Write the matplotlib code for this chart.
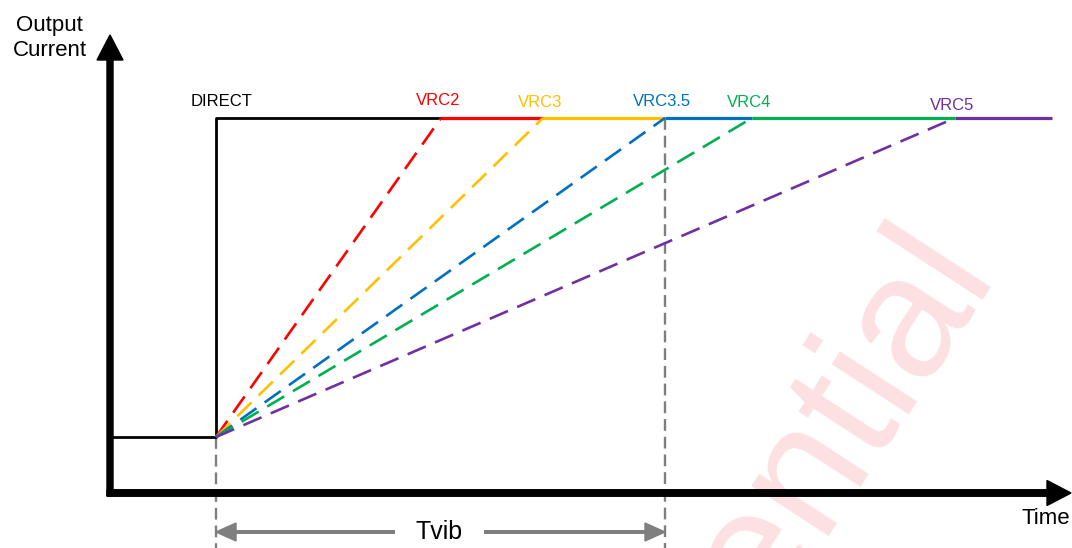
import matplotlib
matplotlib.use("Agg")
import matplotlib.pyplot as plt

plt.rcParams['font.family'] = ['Liberation Sans', 'DejaVu Sans']

# schematic units: time along x, output current along y
t_step = 1.06          # moment the current starts to rise
t_stop = 9.42          # right end of the drawn curves
i_low = 0.56
i_high = 3.75

modes = ['VRC2', 'VRC3', 'VRC3.5', 'VRC4', 'VRC5']
ramp_end = [3.31, 4.33, 5.55, 6.42, 8.45]
mode_colors = ['#ff0000', '#ffc000', '#0070c0', '#00b050', '#7030a0']
label_y = [3.92, 3.90, 3.91, 3.90, 3.87]

fig = plt.figure(figsize=(10.72, 5.48), dpi=100)
ax = fig.add_axes([0, 0, 1, 1])
ax.set_xlim(-1.10, 9.62)
ax.set_ylim(-0.55, 4.93)
ax.axis('off')

# watermark
ax.text(8.84, 2.24, 'Confidential', rotation=57, rotation_mode='anchor',
        ha='right', va='baseline', fontsize=126, color='#fde1e2', zorder=0)

# axes with arrow heads
ax.arrow(0, -0.03, 0, 4.61, width=0.06, head_width=0.26, head_length=0.25,
         length_includes_head=True, color='black', zorder=3)
ax.arrow(-0.03, 0, 9.64, 0, width=0.065, head_width=0.25, head_length=0.24,
         length_includes_head=True, color='black', zorder=3)
ax.text(-0.605, 4.55, 'Output\nCurrent', fontsize=16, ha='center', va='center',
        multialignment='center')
ax.text(9.36, -0.26, 'Time', fontsize=16, ha='center', va='center')

# DIRECT: step straight to the final level
ax.plot([0, t_step, t_step, ramp_end[0]], [i_low, i_low, i_high, i_high],
        color='black', lw=2.0, zorder=2)
ax.text(t_step + 0.06, 3.91, 'DIRECT', fontsize=12, ha='center', va='center')

# ramps and the flat part after each ramp
for k, (name, te, col, ly) in enumerate(zip(modes, ramp_end, mode_colors, label_y)):
    ax.plot([t_step, te], [i_low, i_high], color=col, lw=1.9,
            linestyle=(0, (7.5, 3.8)), zorder=2)
    nxt = ramp_end[k + 1] if k + 1 < len(ramp_end) else t_stop
    ax.plot([te, nxt], [i_high, i_high], color=col, lw=2.3,
            solid_capstyle='butt', zorder=2)
    ax.text(te - 0.03, ly, name, fontsize=12, color=col, ha='center', va='center')

# Tvib markers
t_vib_end = ramp_end[modes.index('VRC3.5')]
ax.plot([t_step, t_step], [i_low, -0.55], color='#7f7f7f', lw=1.7,
        linestyle=(0, (5, 2.5)), zorder=1)
ax.plot([t_vib_end, t_vib_end], [i_high, -0.55], color='#7f7f7f', lw=1.7,
        linestyle=(0, (5, 2.5)), zorder=1)
y_vib = -0.39
mid = (t_step + t_vib_end) / 2
for a, b in [(mid, t_step), (mid, t_vib_end)]:
    ax.arrow(a, y_vib, b - a, 0, width=0.026, head_width=0.18, head_length=0.20,
             length_includes_head=True, color='#7f7f7f', zorder=2)
ax.text(mid - 0.01, y_vib, 'Tvib', fontsize=18, ha='center', va='center',
        bbox=dict(boxstyle='square,pad=0.85', fc='white', ec='none'), zorder=4)

fig.savefig('out.png', dpi=100)
